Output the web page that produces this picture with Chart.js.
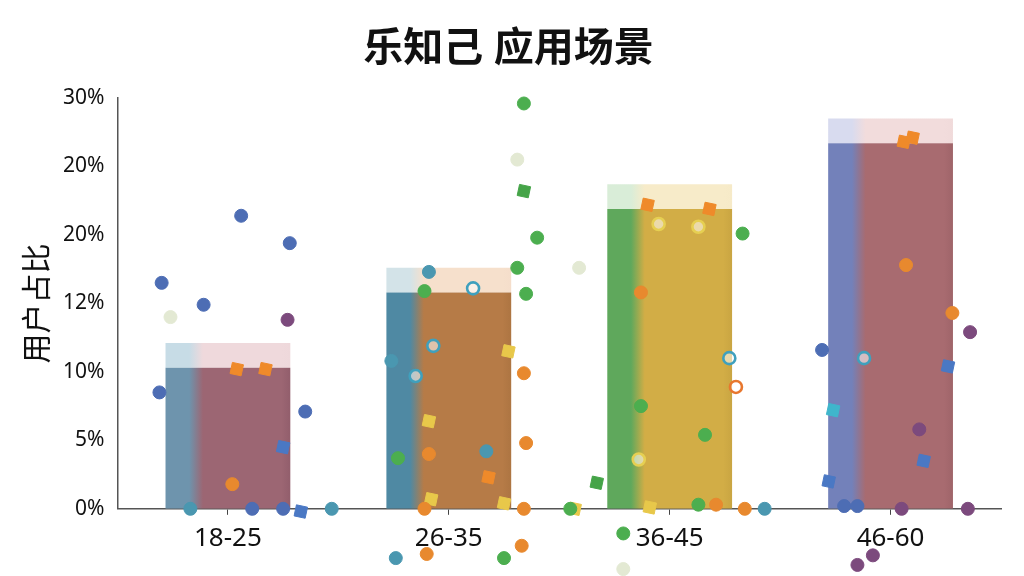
<!DOCTYPE html>
<html>
<head>
<meta charset="utf-8">
<script src="https://cdn.jsdelivr.net/npm/chart.js@4.4.1/dist/chart.umd.min.js"></script>
<style>
    html, body { margin: 0; padding: 0; background: #ffffff; }
    #wrap { width: 1024px; height: 576px; }
</style>
</head>
<body>
<div id="wrap"><canvas id="usageChart" width="1024" height="576"></canvas></div>
<script>
(function () {
    const categories = ['18-25', '26-35', '36-45', '46-60'];
    const shares = [10.3, 15.8, 21.9, 26.7];
    const capTops = [12.1, 17.6, 23.7, 28.5];
    const yTickLabels = ['0%', '5%', '10%', '12%', '20%', '20%', '30%'];

    // scattered markers: [position along categories, value]
    const blueDots = [[0.06, 21.4], [0.28, 19.4], [-0.30, 16.5], [-0.11, 14.9], [-0.31, 8.5], [0.35, 7.1], [0.11, 0], [0.25, 0], [2.69, 11.6], [2.79, 0.2], [2.85, 0.2]];
    const blueSquares = [[0.25, 4.5], [0.33, -0.2], [3.26, 10.4], [3.15, 3.5], [2.72, 2.0]];
    const tealDots = [[-0.17, 0], [0.47, 0], [0.91, 17.3], [0.74, 10.8], [1.17, 4.2], [0.76, -3.6], [2.43, 0]];
    const tealRings = [[1.11, 16.1], [0.93, 11.9], [0.85, 9.7], [2.27, 11.0], [2.88, 11.0]];
    const tealSquares = [[2.74, 7.2]];
    const greenDots = [[1.34, 29.6], [1.40, 19.8], [1.31, 17.6], [1.35, 15.7], [0.89, 15.9], [0.77, 3.7], [1.55, 0], [1.25, -3.6], [2.33, 20.1], [1.87, 7.5], [2.16, 5.4], [2.13, 0.3], [1.79, -1.8]];
    const greenSquares = [[1.34, 23.2], [1.67, 1.9]];
    const orangeDots = [[1.34, 9.9], [1.35, 4.8], [0.91, 4.0], [0.89, 0], [1.34, 0], [0.90, -3.3], [1.33, -2.7], [1.87, 15.8], [2.21, 0.3], [2.34, 0], [3.07, 17.8], [3.28, 14.3], [0.02, 1.8]];
    const orangeSquares = [[0.04, 10.2], [0.17, 10.2], [1.18, 2.3], [1.90, 22.2], [2.18, 21.9], [3.06, 26.8], [3.10, 27.1]];
    const orangeRings = [[2.30, 8.9]];
    const yellowSquares = [[1.27, 11.5], [0.91, 6.4], [0.92, 0.7], [1.25, 0.4], [1.57, 0], [1.91, 0.1]];
    const yellowRings = [[1.95, 20.8], [2.13, 20.6], [1.86, 3.6]];
    const purpleDots = [[0.27, 13.8], [3.36, 12.9], [3.13, 5.8], [3.05, 0], [3.35, 0], [2.85, -4.1], [2.92, -3.4]];
    const paleDots = [[-0.26, 14.0], [1.31, 25.5], [1.59, 17.6], [1.79, -4.4]];

    const barShare = 0.565;
    const solidColors = [
        ['#6e94ad', '#9c6673', '#925e6c'],
        ['#4f89a3', '#b67b47', '#ad7542'],
        ['#5fa85c', '#d2ad46', '#c9a542'],
        ['#7381ba', '#a86b70', '#9f6469']
    ];
    const capColors = [
        ['#c7dce6', '#efd9dc', '#eed8db'],
        ['#d3e3e8', '#f6e0cc', '#f5decb'],
        ['#d9edd8', '#f7ebc9', '#f6eac8'],
        ['#d8dbef', '#f2dcdc', '#f0dada']
    ];

    function barFill(palette) {
        return function (ctx) {
            const chart = ctx.chart;
            const xScale = chart.scales.x;
            const s = palette[ctx.dataIndex] || palette[0];
            if (!xScale || ctx.dataIndex === undefined) {
                return s[1];
            }
            const c = xScale.getPixelForValue(ctx.dataIndex);
            const half = Math.abs(xScale.getPixelForValue(1) - xScale.getPixelForValue(0)) * barShare / 2;
            if (!isFinite(c) || !isFinite(half) || half <= 0) {
                return s[1];
            }
            const g = chart.ctx.createLinearGradient(c - half, 0, c + half, 0);
            g.addColorStop(0, s[0]);
            g.addColorStop(0.19, s[0]);
            g.addColorStop(0.3, s[1]);
            g.addColorStop(0.93, s[1]);
            g.addColorStop(1, s[2]);
            return g;
        };
    }

    function toPoints(list) {
        return list.map((p) => ({ x: p[0], y: p[1] }));
    }

    function markers(list, color, style) {
        const base = {
            type: 'scatter',
            data: toPoints(list),
            clip: false,
            pointRadius: 6.5,
            pointHoverRadius: 6.5,
            pointBackgroundColor: color,
            pointBorderColor: color,
            pointBorderWidth: 1,
            order: -1
        };
        if (style === 'ring') {
            base.pointBackgroundColor = 'rgba(255,255,255,0.55)';
            base.pointBorderWidth = 2.6;
            base.pointRadius = 6;
        } else if (style === 'square') {
            base.pointStyle = 'rect';
            base.pointRadius = 8;
            base.pointRotation = 12;
        }
        return base;
    }

    // points that fall below the axis are skipped by Chart.js, draw them against the whole canvas
    const strayPoints = {
        id: 'strayPoints',
        afterDatasetsDraw(chart) {
            const area = chart.chartArea;
            const whole = { left: 0, top: 0, right: chart.width, bottom: chart.height };
            chart.data.datasets.forEach((ds, i) => {
                if (ds.type !== 'scatter') {
                    return;
                }
                chart.getDatasetMeta(i).data.forEach((pt) => {
                    const r = pt.options.radius + pt.options.borderWidth;
                    if (pt.y > area.bottom + r / 2) {
                        pt.draw(chart.ctx, whole);
                    }
                });
            });
        }
    };

    const font = '"Noto Sans", "Noto Sans CJK SC", sans-serif';

    new Chart(document.getElementById('usageChart'), {
        type: 'bar',
        plugins: [strayPoints],
        data: {
            datasets: [
                {
                    label: '用户占比',
                    data: shares.map((v, i) => ({ x: i, y: v })),
                    backgroundColor: barFill(solidColors),
                    borderWidth: 0,
                    grouped: false,
                    barPercentage: 1,
                    categoryPercentage: barShare
                },
                {
                    label: 'cap',
                    data: shares.map((v, i) => ({ x: i, y: [v, capTops[i]] })),
                    backgroundColor: barFill(capColors),
                    borderWidth: 0,
                    grouped: false,
                    barPercentage: 1,
                    categoryPercentage: barShare
                },
                markers(paleDots, '#e3e9d3'),
                markers(blueDots, '#4d6db4'),
                markers(blueSquares, '#4a78c4', 'square'),
                markers(tealDots, '#4a97b0'),
                markers(tealRings, '#3fa0bd', 'ring'),
                markers(tealSquares, '#3fb6cc', 'square'),
                markers(greenDots, '#4cae4f'),
                markers(greenSquares, '#45a448', 'square'),
                markers(orangeDots, '#e8892e'),
                markers(orangeSquares, '#ef8a2a', 'square'),
                markers(orangeRings, '#e8772e', 'ring'),
                markers(yellowSquares, '#e8c84a', 'square'),
                markers(yellowRings, '#e6cf52', 'ring'),
                markers(purpleDots, '#7c4a7d')
            ]
        },
        options: {
            responsive: false,
            animation: false,
            layout: {
                padding: { left: 16, right: 23, top: 0, bottom: 14 }
            },
            plugins: {
                legend: { display: false },
                tooltip: { enabled: false },
                title: {
                    display: true,
                    text: '乐知己 应用场景',
                    color: '#111111',
                    font: { family: font, size: 40, weight: 'bold' },
                    padding: { top: 26, bottom: 24 }
                }
            },
            scales: {
                x: {
                    type: 'linear',
                    min: -0.5,
                    max: 3.5,
                    offset: false,
                    afterBuildTicks: (scale) => {
                        scale.ticks = categories.map((c, i) => ({ value: i }));
                    },
                    grid: {
                        display: true,
                        offset: false,
                        drawOnChartArea: false,
                        drawTicks: true,
                        tickLength: 6,
                        color: '#444444'
                    },
                    border: { display: true, color: '#555555', width: 1.5 },
                    ticks: {
                        autoSkip: false,
                        maxRotation: 0,
                        color: '#111111',
                        padding: 8,
                        font: { family: font, size: 26 },
                        callback: (value) => categories[value]
                    }
                },
                y: {
                    min: 0,
                    max: 30,
                    stacked: false,
                    grid: { display: false, drawTicks: false },
                    border: { display: true, color: '#555555', width: 1.5 },
                    ticks: {
                        stepSize: 5,
                        padding: 13,
                        color: '#111111',
                        font: { family: font, size: 21 },
                        callback: (value, index) => yTickLabels[index]
                    },
                    title: {
                        display: true,
                        text: '用户占比',
                        color: '#111111',
                        font: { family: font, size: 30 },
                        padding: { top: 4, bottom: -6 }
                    }
                }
            }
        }
    });
})();
</script>
</body>
</html>
